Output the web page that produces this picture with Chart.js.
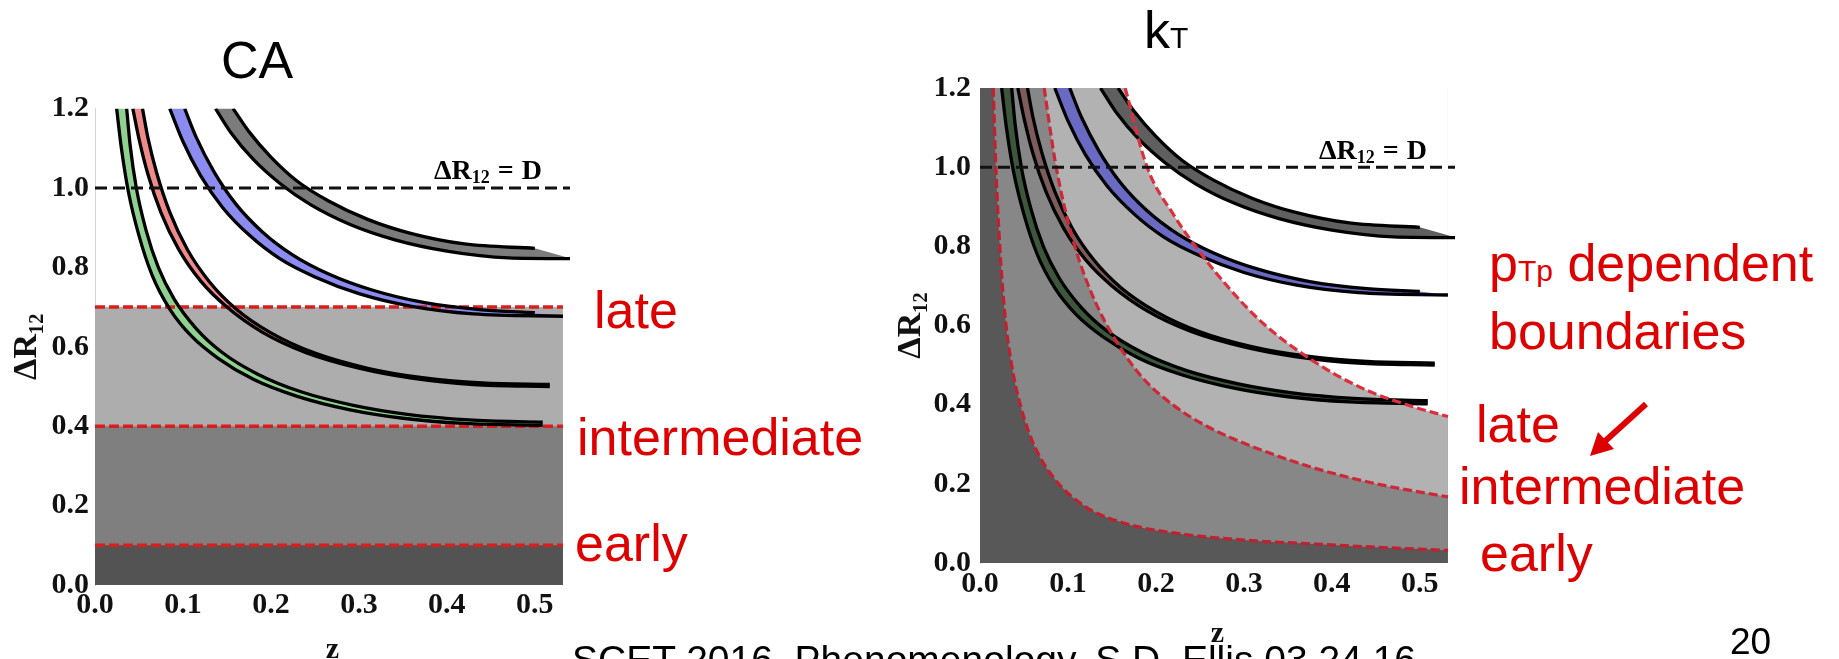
<!DOCTYPE html>
<html>
<head>
<meta charset="utf-8">
<title>CA vs kT clustering regions</title>
<script src="https://cdn.jsdelivr.net/npm/chart.js@4.4.1/dist/chart.umd.min.js"></script>
<style>
  html, body { margin: 0; padding: 0; background: #fff; }
  body { width: 1839px; height: 659px; overflow: hidden; position: relative; }
  canvas { position: absolute; top: 0; }
  #caChart { left: 0; }
  #ktChart { left: 860px; }
  .txt { position: absolute; line-height: 1; white-space: nowrap; font-family: 'Liberation Sans', Arial, sans-serif; color: #000; }
  .big { font-size: 52px; }
  .red { color: #dd0000; }
  .small { font-size: 30px; }
  .eq { font-family: 'Liberation Serif', 'Times New Roman', serif; font-weight: bold; font-size: 28px; word-spacing: 1px; }
  .eq sub { font-size: 18px; vertical-align: -4px; line-height: 0; }
</style>
</head>
<body>
<canvas id="caChart" width="640" height="690"></canvas>
<canvas id="ktChart" width="620" height="690"></canvas>

<div class="txt big" style="left:221px;top:34px">CA</div>
<div class="txt big" style="left:1144px;top:4px">k<span class="small">T</span></div>

<div class="txt eq" style="left:434px;top:156px">ΔR<sub>12</sub> = D</div>
<div class="txt eq" style="left:1319px;top:136px">ΔR<sub>12</sub> = D</div>

<div class="txt big red" style="left:594px;top:284px">late</div>
<div class="txt big red" style="left:577px;top:411px">intermediate</div>
<div class="txt big red" style="left:575px;top:517px">early</div>

<div class="txt big red" style="left:1489px;top:237px">p<span class="small">Tp</span> dependent</div>
<div class="txt big red" style="left:1489px;top:305px">boundaries</div>
<div class="txt big red" style="left:1476px;top:398px">late</div>
<div class="txt big red" style="left:1459px;top:460px">intermediate</div>
<div class="txt big red" style="left:1480px;top:527px">early</div>

<svg style="position:absolute;left:0;top:0" width="1839" height="659">
  <line x1="1646" y1="404" x2="1603" y2="443" stroke="#dd0000" stroke-width="6"/>
  <polygon points="1590,456 1598,432 1614,449" fill="#dd0000"/>
</svg>

<div class="txt" style="left:1730px;top:623px;font-size:37px">20</div>
<div class="txt" style="left:572px;top:640px;font-size:39px">SCET 2016, Phenomenology, S.D. Ellis 03.24.16</div>

<script>
// ---- values (z on x, ΔR12 on y) ----
const zTicks = [0.0, 0.1, 0.2, 0.3, 0.4, 0.5];
const rTicks = [0.0, 0.2, 0.4, 0.6, 0.8, 1.0, 1.2];

// mass bands: lower and upper black edge of each band (same in both panels)
const greenLoZ = [0.0246, 0.03, 0.038, 0.05, 0.065, 0.085, 0.11, 0.14, 0.18, 0.23, 0.29, 0.35, 0.42, 0.509];
const greenLoR = [1.2, 1.1, 0.99, 0.88, 0.78, 0.695, 0.626, 0.571, 0.518, 0.475, 0.441, 0.42, 0.407, 0.402];
const greenHiZ = [0.036, 0.04, 0.047, 0.058, 0.072, 0.09, 0.115, 0.145, 0.185, 0.235, 0.295, 0.355, 0.425, 0.509];
const greenHiR = [1.2, 1.107, 1.0, 0.894, 0.80, 0.72, 0.646, 0.585, 0.531, 0.486, 0.452, 0.43, 0.416, 0.41];

const pinkLoZ = [0.043, 0.05, 0.06, 0.075, 0.095, 0.12, 0.15, 0.19, 0.24, 0.3, 0.36, 0.43, 0.517];
const pinkLoR = [1.2, 1.124, 1.036, 0.938, 0.846, 0.766, 0.70, 0.637, 0.585, 0.546, 0.521, 0.505, 0.50];
const pinkHiZ = [0.054, 0.06, 0.07, 0.085, 0.105, 0.13, 0.16, 0.2, 0.25, 0.31, 0.37, 0.44, 0.517];
const pinkHiR = [1.2, 1.128, 1.039, 0.939, 0.845, 0.764, 0.696, 0.635, 0.584, 0.546, 0.523, 0.509, 0.505];

const blueLoZ = [0.085, 0.1, 0.12, 0.145, 0.175, 0.21, 0.25, 0.3, 0.36, 0.43, 0.532];
const blueLoR = [1.2, 1.117, 1.031, 0.951, 0.882, 0.822, 0.776, 0.734, 0.702, 0.683, 0.677];
const blueHiZ = [0.102, 0.115, 0.135, 0.16, 0.19, 0.225, 0.265, 0.315, 0.375, 0.44, 0.5];
const blueHiR = [1.2, 1.128, 1.042, 0.96, 0.89, 0.831, 0.784, 0.743, 0.711, 0.693, 0.686];

const grayLoZ = [0.137, 0.155, 0.18, 0.21, 0.245, 0.29, 0.34, 0.4, 0.47, 0.542];
const grayLoR = [1.2, 1.138, 1.072, 1.012, 0.958, 0.908, 0.87, 0.841, 0.824, 0.822];
const grayHiZ = [0.157, 0.175, 0.2, 0.23, 0.265, 0.31, 0.36, 0.42, 0.5];
const grayHiR = [1.2, 1.142, 1.078, 1.017, 0.968, 0.921, 0.885, 0.859, 0.848];

// CA: fixed boundaries
const panelZ = [0, 0.532];
const earlyCaR = [0.1, 0.1];
const interCaR = [0.4, 0.4];
const lateCaR = [0.7, 0.7];
const panelTopR = [1.2, 1.2];
const dLineZ = [0, 0.54];
const dLineR = [1.0, 1.0];

// kT: pTp dependent boundaries
const earlyKtZ = [0.015, 0.018, 0.0225, 0.028, 0.036, 0.047, 0.062, 0.085, 0.12, 0.165, 0.22, 0.3, 0.38, 0.45, 0.532];
const earlyKtR = [1.2, 1.0, 0.8, 0.635, 0.5, 0.39, 0.295, 0.212, 0.142, 0.1, 0.076, 0.058, 0.048, 0.04, 0.032];
const interKtZ = [0.073, 0.085, 0.097, 0.112, 0.131, 0.153, 0.184, 0.222, 0.26, 0.303, 0.38, 0.455, 0.532];
const interKtR = [1.2, 1.02, 0.89, 0.77, 0.66, 0.567, 0.47, 0.395, 0.343, 0.30, 0.24, 0.198, 0.167];
const lateKtZ = [0.165, 0.19, 0.22, 0.25, 0.284, 0.322, 0.379, 0.436, 0.492, 0.532];
const lateKtR = [1.2, 1.0, 0.88, 0.785, 0.692, 0.605, 0.51, 0.44, 0.395, 0.37];

// ---- helpers ----
const pts = (zs, rs) => zs.map((z, i) => ({ x: z, y: rs[i] }));
const band = (loZ, loR, hiZ, hiR) => pts(hiZ, hiR).concat(pts(loZ, loR).reverse());
const clear = 'rgba(0,0,0,0)';

const bands = [
  [greenLoZ, greenLoR, greenHiZ, greenHiR],
  [pinkLoZ, pinkLoR, pinkHiZ, pinkHiR],
  [blueLoZ, blueLoR, blueHiZ, blueHiR],
  [grayLoZ, grayLoR, grayHiZ, grayHiR]
];

function blackLine(zs, rs) {
  return { data: pts(zs, rs), borderColor: '#000', borderWidth: 3.3, fill: false, cubicInterpolationMode: 'monotone', order: 5 };
}

function bandSets(fills) {
  const sets = [];
  bands.forEach((b, i) => {
    sets.push({ data: band(b[0], b[1], b[2], b[3]), fill: 'shape', backgroundColor: fills[i], borderColor: clear, borderWidth: 0, tension: 0, order: 10 + i });
    sets.push(blackLine(b[0], b[1]), blackLine(b[2], b[3]));
  });
  return sets;
}

function region(zs, rs, color, fill, order) {
  return { data: pts(zs, rs), fill: fill, backgroundColor: color, borderColor: clear, borderWidth: 0, cubicInterpolationMode: 'monotone', order: order };
}

function dashed(zs, rs, color, width, dash, order) {
  return { data: pts(zs, rs), fill: false, borderColor: color, borderWidth: width, borderDash: dash, cubicInterpolationMode: 'monotone', order: order };
}

const serif = "'Liberation Serif', 'Times New Roman', serif";

function buildChart(id, datasets, geo) {
  return new Chart(document.getElementById(id), {
    type: 'line',
    data: { datasets: datasets },
    options: {
      responsive: false,
      animation: false,
      events: [],
      layout: { padding: { top: geo.top, right: geo.right, left: 0, bottom: 0 } },
      elements: { point: { radius: 0 } },
      plugins: {
        legend: { display: false },
        tooltip: { enabled: false },
        filler: { drawTime: 'beforeDatasetsDraw' }
      },
      scales: {
        x: {
          type: 'linear',
          min: 0,
          max: 0.54,
          afterBuildTicks: s => { s.ticks = zTicks.map(v => ({ value: v })); },
          afterFit: s => { s.height = geo.xAxisH; },
          grid: { display: false, drawTicks: false },
          border: { display: false },
          ticks: {
            callback: v => v.toFixed(1),
            color: '#111', padding: geo.xTickPad, maxRotation: 0, autoSkip: false,
            font: { family: serif, weight: 'bold', size: 30 }
          },
          title: {
            display: true, text: 'z', color: '#111',
            font: { family: serif, weight: 'bold', size: 30, lineHeight: 1 },
            padding: { top: 0, bottom: geo.xTitlePad }
          }
        },
        y: {
          type: 'linear',
          min: 0,
          max: 1.2,
          afterBuildTicks: s => { s.ticks = rTicks.map(v => ({ value: v })); },
          afterFit: s => { s.width = geo.yAxisW; },
          grid: { display: false, drawTicks: false },
          border: { display: true, color: '#d4d4d4', width: 1 },
          ticks: {
            callback: v => v.toFixed(1),
            color: '#111', padding: geo.yTickPad, autoSkip: false,
            font: { family: serif, weight: 'bold', size: 30 }
          },
          title: {
            display: true, text: 'ΔR₁₂', color: '#111',
            font: { family: serif, weight: 'bold', size: 34, lineHeight: 1 },
            padding: { top: geo.yTitlePad, bottom: 0 }
          }
        }
      }
    }
  });
}

// ---- CA panel ----
const caSets = [
  region(panelZ, lateCaR, '#adadad', 'start', 32),
  region(panelZ, interCaR, '#7f7f7f', 'start', 31),
  region(panelZ, earlyCaR, '#535353', 'start', 30),
  dashed(panelZ, lateCaR, '#d91e1e', 3.5, [10, 4], 20),
  dashed(panelZ, interCaR, '#d91e1e', 3.5, [10, 4], 20),
  dashed(panelZ, earlyCaR, '#d91e1e', 3.5, [10, 4], 20)
].concat(bandSets(['#8fd18f', '#f08a8a', '#8b8bf0', '#7c7c7c']))
 .concat([dashed(dLineZ, dLineR, '#111', 3, [12, 6], 1)]);

buildChart('caChart', caSets, {
  top: 108.6, right: 70, yAxisW: 95, xAxisH: 105,
  xTickPad: 2, yTickPad: 6, xTitlePad: 25, yTitlePad: 10
});

// ---- kT panel ----
const ktSets = [
  region(panelZ, panelTopR, '#585858', 'start', 40),
  region(earlyKtZ, earlyKtR, '#878787', 'end', 39),
  region(interKtZ, interKtR, '#b2b2b2', 'end', 38),
  region(lateKtZ, lateKtR, '#ffffff', 'end', 37)
].concat(bandSets(['#3c573c', '#7e5c5c', '#6a6ac2', '#5f5f5f']))
 .concat([
  dashed(earlyKtZ, earlyKtR, '#c0202f', 3.2, [9, 4], 2),
  dashed(interKtZ, interKtR, '#cc2838', 3.2, [9, 4], 2),
  dashed(lateKtZ, lateKtR, '#dc303e', 3.2, [9, 4], 2),
  dashed(dLineZ, dLineR, '#111', 3, [12, 6], 1)
 ]);

buildChart('ktChart', ktSets, {
  top: 88, right: 25, yAxisW: 120, xAxisH: 127,
  xTickPad: 3, yTickPad: 9, xTitlePad: 41, yTitlePad: 34
});
</script>
</body>
</html>
